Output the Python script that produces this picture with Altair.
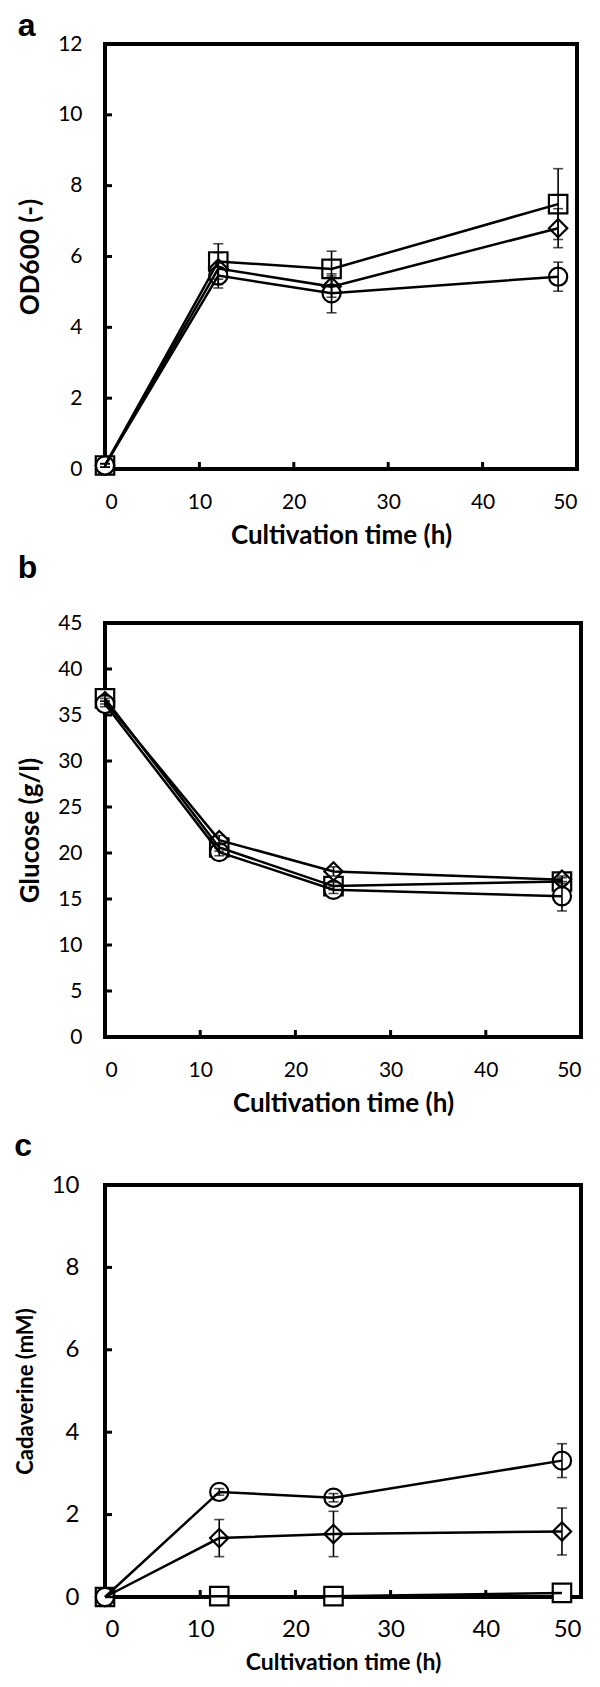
import altair as alt
import pandas as pd

# ---------------- data ----------------
time_h = [0, 12, 24, 48]
series_names = ["square", "diamond", "circle"]

# Panel a: OD600
od_square = [0.1, 5.86, 5.65, 7.48]
od_square_err = [0.05, 0.5, 0.5, 1.0]
od_diamond = [0.1, 5.66, 5.15, 6.80]
od_diamond_err = [0.05, 0.45, 0.3, 0.55]
od_circle = [0.1, 5.46, 4.96, 5.43]
od_circle_err = [0.05, 0.35, 0.55, 0.41]

# Panel b: Glucose
glc_square = [36.8, 20.6, 16.4, 16.9]
glc_square_err = [0.3, 0.4, 0.4, 0.4]
glc_diamond = [36.5, 21.4, 18.0, 17.1]
glc_diamond_err = [0.3, 0.5, 0.5, 0.4]
glc_circle = [36.2, 20.1, 16.0, 15.3]
glc_circle_err = [0.3, 0.4, 0.4, 1.6]

# Panel c: Cadaverine
cad_square = [0.0, 0.02, 0.02, 0.1]
cad_square_err = [0.0, 0.0, 0.0, 0.0]
cad_diamond = [0.0, 1.43, 1.53, 1.59]
cad_diamond_err = [0.0, 0.45, 0.55, 0.57]
cad_circle = [0.0, 2.55, 2.41, 3.31]
cad_circle_err = [0.0, 0.08, 0.1, 0.41]

x_ticks = [0, 10, 20, 30, 40, 50]
od_ticks = [0, 2, 4, 6, 8, 10, 12]
glc_ticks = [0, 5, 10, 15, 20, 25, 30, 35, 40, 45]
cad_ticks = [0, 2, 4, 6, 8, 10]

FONT = "Lato"


def make_df(vals, errs):
    rows = []
    for name, v, e in zip(series_names, vals, errs):
        for t, vv, ee in zip(time_h, v, e):
            rows.append({"t": t, "v": vv, "lo": vv - ee, "hi": vv + ee, "err": ee, "s": name})
    return pd.DataFrame(rows)


def panel(df, yticks, ymax, ytitle, label, w, h, lab_size, title_size, ytitle_size,
          ylab_pad, ytitle_pad, xlab_pad, xtitle_pad, toff):
    xenc = alt.X("t:Q", scale=alt.Scale(domain=[0, 50], nice=False, zero=False),
                 axis=alt.Axis(values=x_ticks, title="Cultivation time (h)",
                               labelFontSize=lab_size, titleFontSize=title_size,
                               labelPadding=xlab_pad, titlePadding=xtitle_pad))
    yenc = alt.Y("v:Q", scale=alt.Scale(domain=[0, ymax], nice=False),
                 axis=alt.Axis(values=yticks, title=ytitle,
                               labelFontSize=lab_size, titleFontSize=ytitle_size,
                               labelPadding=ylab_pad, titlePadding=ytitle_pad))
    base = alt.Chart(df)
    markers = base.mark_point(filled=True, fill="white", stroke="black",
                              strokeWidth=2.2, opacity=1).encode(
        x=xenc, y=yenc,
        shape=alt.Shape("s:N", scale=alt.Scale(domain=series_names,
                                               range=["square", "diamond", "circle"]), legend=None),
        size=alt.Size("s:N", scale=alt.Scale(domain=series_names, range=[340, 330, 330]), legend=None),
    )
    lines = base.mark_line(color="black", strokeWidth=2.5).encode(
        x="t:Q", y="v:Q", detail="s:N")
    eb = base.transform_filter("datum.err > 0")
    err = eb.mark_rule(color="black", strokeWidth=1.6).encode(x="t:Q", y="lo:Q", y2="hi:Q")
    cap_lo = eb.mark_tick(color="black", thickness=1.6, size=10, orient="horizontal").encode(
        x="t:Q", y="lo:Q")
    cap_hi = eb.mark_tick(color="black", thickness=1.6, size=10, orient="horizontal").encode(
        x="t:Q", y="hi:Q")
    xt = alt.Chart(pd.DataFrame({"t": x_ticks[1:-1]})).mark_rule(
        color="black", strokeWidth=3).encode(x="t:Q", y=alt.value(h), y2=alt.value(h - 7))
    yt = alt.Chart(pd.DataFrame({"v": yticks[1:-1]})).mark_rule(
        color="black", strokeWidth=3).encode(y="v:Q", x=alt.value(0), x2=alt.value(7))
    return alt.layer(markers, lines, err, cap_lo, cap_hi, xt, yt).properties(
        width=w, height=h,
        title=alt.TitleParams(text=label, anchor="start", frame="bounds",
                              font="Liberation Sans", fontSize=32, fontWeight="bold",
                              color="black", offset=toff),
    )


pa = panel(make_df([od_square, od_diamond, od_circle],
                   [od_square_err, od_diamond_err, od_circle_err]),
           od_ticks, 12, "OD600 (-)", "a", 472, 425, 21, 26, 26, 23, 14, 22, 10, -10)
pb = panel(make_df([glc_square, glc_diamond, glc_circle],
                   [glc_square_err, glc_diamond_err, glc_circle_err]),
           glc_ticks, 45, "Glucose (g/l)", "b", 476, 414, 21, 26, 26, 23, 14, 22, 10, 27)
pc = panel(make_df([cad_square, cad_diamond, cad_circle],
                   [cad_square_err, cad_diamond_err, cad_circle_err]),
           cad_ticks, 10, "Cadaverine (mM)", "c", 476, 412, 24, 23, 22, 26, 14, 20, 10, 10)

chart = alt.vconcat(alt.vconcat(pa, pb, spacing=0), pc, spacing=10).properties(
    padding={"left": 4, "top": 0, "right": 5, "bottom": 0},
    background="white",
).configure_view(
    stroke="black", strokeWidth=4
).configure_axis(
    domain=False, ticks=False, grid=False,
    labelFont=FONT, labelColor="black", titleFont=FONT, titleColor="black",
    titleFontWeight="bold", labelFontWeight="normal"
)

chart.save("out.html", embed_options={"renderer": "svg", "actions": False})
